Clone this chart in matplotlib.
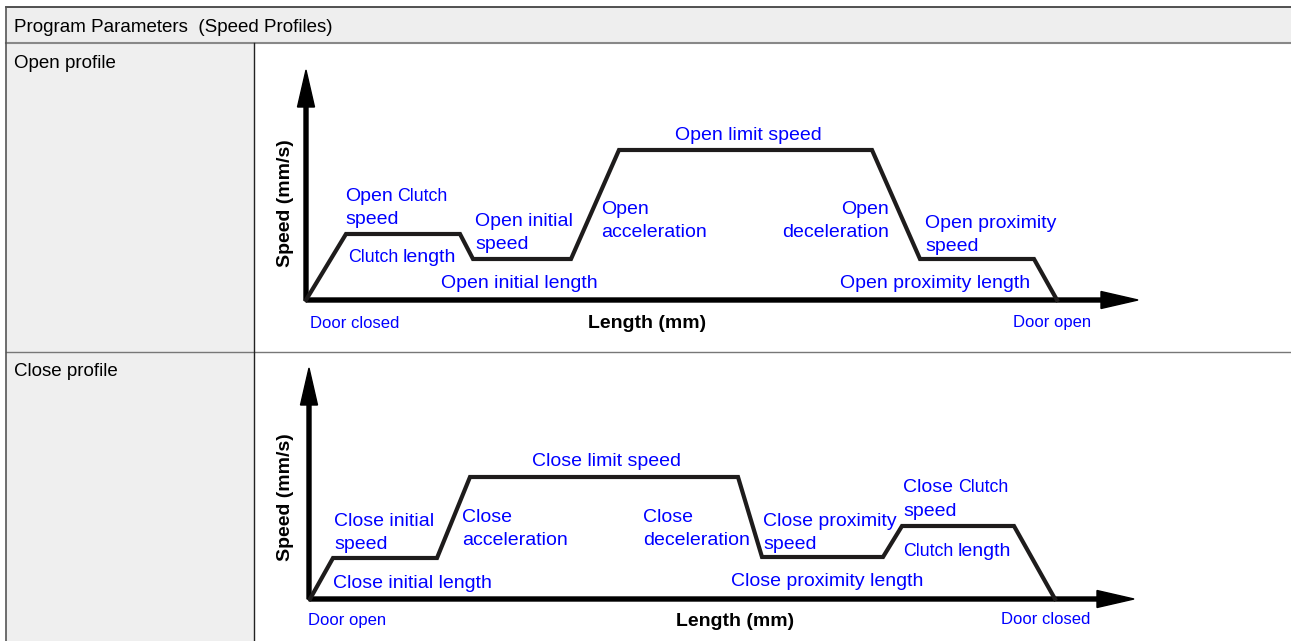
import matplotlib.pyplot as plt
from matplotlib.patches import Rectangle

plt.rcParams['font.family'] = ['Liberation Sans', 'DejaVu Sans']

# Speed profile breakpoints (schematic units: length, speed)
open_len = [0, 40, 154, 167, 265, 313, 566, 614, 728, 751]
open_spd = [0, 66, 66, 41, 41, 150, 150, 41, 41, 0]
close_len = [1, 24, 128, 161, 429, 453, 574, 593, 705, 746]
close_spd = [0, 41, 41, 122, 122, 42, 42, 73, 73, 0]

header = 'Program Parameters  (Speed Profiles)'
row_labels = ['Open profile', 'Close profile']

W, H = 1291, 641
BLUE = '#0000ff'
LINE = '#1e1c1c'

fig = plt.figure(figsize=(W / 100, H / 100), dpi=100)

# table background / grid in pixel coordinates
tab = fig.add_axes([0, 0, 1, 1])
tab.set_xlim(0, W)
tab.set_ylim(H, 0)
tab.axis('off')
tab.add_patch(Rectangle((6, 7), W - 6, 36, color='#eeeeee', lw=0))
tab.add_patch(Rectangle((6, 43), 248, H - 43, color='#efefef', lw=0))
tab.plot([6, W], [7, 7], color='#333333', lw=1.2)
tab.plot([6, W], [43, 43], color='#888888', lw=1.5)
tab.plot([6, W], [352, 352], color='#777777', lw=1.0)
tab.plot([6, 6], [7, H], color='#555555', lw=1.2)
tab.plot([254, 254], [43, H], color='#222222', lw=1.0)
tab.text(14, 27, header, fontsize=13.5, va='center', ha='left')
tab.text(14, 63, row_labels[0], fontsize=13.5, va='center', ha='left')
tab.text(14, 372, row_labels[1], fontsize=13.5, va='center', ha='left')


def diagram(ox, oy, top, right):
    # axes where 1 data unit == 1 pixel, origin at the speed/length axes corner
    ax = fig.add_axes([ox / W, (H - oy) / H, (right - ox) / W, (oy - top) / H])
    ax.set_xlim(0, right - ox)
    ax.set_ylim(0, oy - top)
    ax.axis('off')
    hl, hw = 37, 17
    ax.arrow(0, 0, 0, oy - top, width=4, head_width=hw, head_length=hl,
             length_includes_head=True, color='black', clip_on=False)
    ax.arrow(0, 0, right - ox, 0, width=4, head_width=hw, head_length=hl,
             length_includes_head=True, color='black', clip_on=False)
    return ax


def lbl(ax, x, y, s, **kw):
    kw.setdefault('fontsize', 14)
    kw.setdefault('color', BLUE)
    kw.setdefault('va', 'center')
    kw.setdefault('ha', 'left')
    kw.setdefault('linespacing', 1.45)
    if kw['va'] == 'center' and kw.get('rotation', 0) == 0:
        y -= 2  # bbox centre sits a little above the visual centre
    return ax.text(x, y, s, clip_on=False, **kw)


def clutch_after(ax, x, y, word):
    t = lbl(ax, x, y, word, va='baseline')
    ax.annotate('Clutch', xy=(1, 0), xycoords=t, xytext=(3.5, 0),
                textcoords='offset points', fontsize=12.8, color=BLUE,
                va='bottom', ha='left', annotation_clip=False)


def clutch_before(ax, x, y, word):
    t = lbl(ax, x, y, 'Clutch', fontsize=12.8, va='baseline')
    ax.annotate(word, xy=(1, 0), xycoords=t, xytext=(3.5, 0),
                textcoords='offset points', fontsize=14, color=BLUE,
                va='bottom', ha='left', annotation_clip=False)


# ---- open profile ----
ox, oy = 306, 300
ax1 = diagram(ox, oy, 70, 1138)
ax1.plot(open_len, open_spd, color=LINE, lw=3.0, solid_joinstyle='miter',
         clip_on=False)
clutch_after(ax1, 345 - ox, oy - 201, 'Open')
lbl(ax1, 345 - ox, oy - 218, 'speed')
clutch_before(ax1, 348 - ox, oy - 262, 'length')
lbl(ax1, 475 - ox, oy - 231, 'Open initial\nspeed')
lbl(ax1, 441 - ox, oy - 281, 'Open initial length')
lbl(ax1, 601 - ox, oy - 219, 'Open\nacceleration')
lbl(ax1, 748 - ox, oy - 134, 'Open limit speed', ha='center')
lbl(ax1, 889 - ox, oy - 219, 'Open\ndeceleration', ha='right',
    multialignment='right')
lbl(ax1, 925 - ox, oy - 233, 'Open proximity\nspeed')
lbl(ax1, 840 - ox, oy - 281, 'Open proximity length')
lbl(ax1, 310 - ox, oy - 321, 'Door closed', fontsize=12)
lbl(ax1, 1013 - ox, oy - 321, 'Door open', fontsize=12)
lbl(ax1, 647 - ox, oy - 322, 'Length (mm)', color='black', weight='bold',
    ha='center')
lbl(ax1, 285 - ox, oy - 203, 'Speed (mm/s)', color='black', weight='bold',
    ha='center', rotation=90)

# ---- close profile ----
ox, oy = 309, 599
ax2 = diagram(ox, oy, 368, 1134)
ax2.plot(close_len, close_spd, color=LINE, lw=3.0, solid_joinstyle='miter',
         clip_on=False)
lbl(ax2, 607 - ox, oy - 460, 'Close limit speed', ha='center')
lbl(ax2, 334 - ox, oy - 531, 'Close initial\nspeed')
lbl(ax2, 333 - ox, oy - 581, 'Close initial length')
lbl(ax2, 462 - ox, oy - 527, 'Close\nacceleration')
lbl(ax2, 643 - ox, oy - 527, 'Close\ndeceleration')
lbl(ax2, 763 - ox, oy - 531, 'Close proximity\nspeed')
lbl(ax2, 731 - ox, oy - 580, 'Close proximity length')
clutch_after(ax2, 903 - ox, oy - 492, 'Close')
lbl(ax2, 903 - ox, oy - 509, 'speed')
clutch_before(ax2, 903 - ox, oy - 556, 'length')
lbl(ax2, 308 - ox, oy - 618, 'Door open', fontsize=12)
lbl(ax2, 1001 - ox, oy - 617, 'Door closed', fontsize=12)
lbl(ax2, 735 - ox, oy - 620, 'Length (mm)', color='black', weight='bold',
    ha='center')
lbl(ax2, 285 - ox, oy - 497, 'Speed (mm/s)', color='black', weight='bold',
    ha='center', rotation=90)

fig.savefig('out.png', dpi=100)
